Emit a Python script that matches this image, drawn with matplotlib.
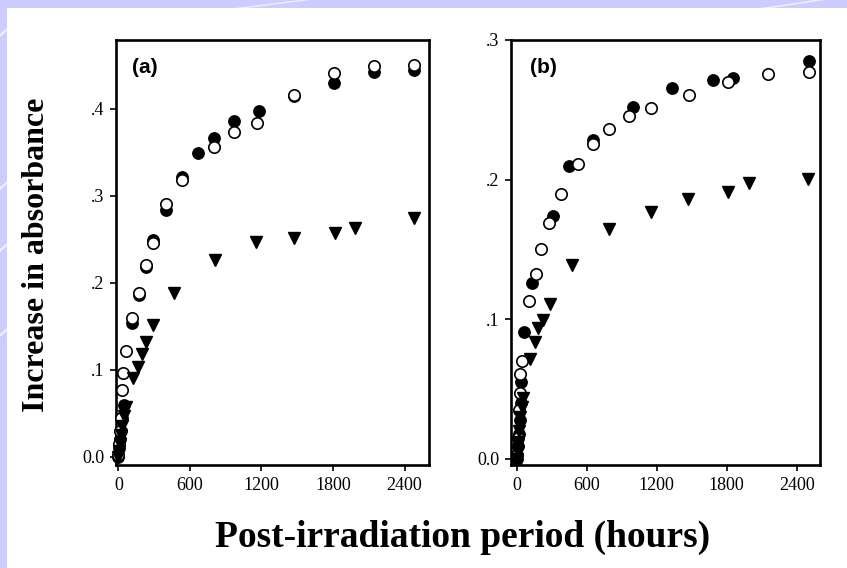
import matplotlib
matplotlib.use("Agg")
import matplotlib.pyplot as plt
from matplotlib.patches import Rectangle, Polygon

# ---------------- data ----------------
# Panel (a)
a_filled_x = [0, 5, 12, 20, 30, 45, 111, 173, 231, 293, 396, 530, 664, 800, 967, 1180, 1473, 1807, 2142, 2477]
a_filled_y = [0.0, 0.01, 0.02, 0.03, 0.045, 0.06, 0.154, 0.186, 0.218, 0.249, 0.284, 0.321, 0.349, 0.366, 0.386, 0.397, 0.415, 0.430, 0.4425, 0.4445]
a_open_x = [0, 8, 15, 24, 33, 42, 67, 111, 173, 231, 293, 396, 530, 800, 967, 1166, 1473, 1807, 2142, 2477]
a_open_y = [0.002, 0.015, 0.03, 0.045, 0.077, 0.096, 0.121, 0.160, 0.188, 0.2203, 0.246, 0.291, 0.318, 0.3556, 0.3736, 0.384, 0.416, 0.4407, 0.449, 0.450]
a_tri_x = [0, 5, 10, 20, 30, 45, 60, 125, 161, 195, 231, 293, 469, 808, 1157, 1473, 1813, 1986, 2477]
a_tri_y = [0.0, 0.007, 0.015, 0.025, 0.035, 0.047, 0.057, 0.090, 0.1035, 0.118, 0.132, 0.1514, 0.1878, 0.226, 0.2464, 0.251, 0.2575, 0.2625, 0.274]

# Panel (b)
b_filled_x = [0, 8, 16, 24, 32, 40, 65, 128, 314, 451, 657, 994, 1329, 1680, 1857, 2508]
b_filled_y = [0.0, 0.009, 0.018, 0.028, 0.04, 0.055, 0.091, 0.126, 0.174, 0.210, 0.2285, 0.252, 0.2657, 0.271, 0.2726, 0.2853]
b_open_x = [0, 10, 18, 24, 28, 43, 105, 163, 208, 280, 380, 528, 657, 794, 965, 1151, 1480, 1814, 2157, 2508]
b_open_y = [0.003, 0.015, 0.035, 0.047, 0.061, 0.0702, 0.1127, 0.1326, 0.150, 0.1686, 0.1894, 0.2115, 0.2255, 0.2362, 0.2453, 0.251, 0.2607, 0.2698, 0.2757, 0.277]
b_tri_x = [0, 6, 12, 20, 30, 43, 57, 114, 157, 185, 223, 285, 471, 794, 1151, 1471, 1814, 1994, 2500]
b_tri_y = [0.0, 0.005, 0.012, 0.02, 0.03, 0.037, 0.0432, 0.0712, 0.0839, 0.0935, 0.0995, 0.111, 0.1386, 0.1647, 0.1767, 0.1858, 0.191, 0.1978, 0.2002]

x_ticks = [0, 600, 1200, 1800, 2400]
x_ticklabels = ["0", "600", "1200", "1800", "2400"]
a_yticks = [0.0, 0.1, 0.2, 0.3, 0.4]
a_yticklabels = ["0.0", ".1", ".2", ".3", ".4"]
b_yticks = [0.0, 0.1, 0.2, 0.3]
b_yticklabels = ["0.0", ".1", ".2", ".3"]

xlabel = "Post-irradiation period (hours)"
ylabel = "Increase in absorbance"

# ---------------- figure ----------------
W, H = 847, 568
fig = plt.figure(figsize=(W / 100, H / 100), dpi=100)
lav = "#CCCCFF"
fig.patch.set_facecolor(lav)

def px(x0, y0, x1, y1):
    return (x0 / W, 1 - y1 / H, (x1 - x0) / W, (y1 - y0) / H)

# white slide area
fig.patches.append(Rectangle((7 / W, 0), (W - 7) / W, (H - 8) / H,
                             transform=fig.transFigure, facecolor="white", edgecolor="none", zorder=-5))
# decorative white stripes in the lavender border
for (xa, xb) in [(235, 300), (760, 815)]:
    fig.patches.append(Polygon([(xa / W, 1 - 8 / H), ((xa + 12) / W, 1 - 8 / H),
                                ((xb + 10) / W, 1.0), (xb / W, 1.0)],
                               closed=True, transform=fig.transFigure,
                               facecolor="white", edgecolor="none", alpha=0.7, zorder=-4))
for yc in [30, 183, 245, 330]:
    fig.patches.append(Polygon([(0, 1 - (yc + 4) / H), (7 / W, 1 - (yc - 2) / H),
                                (7 / W, 1 - (yc + 1) / H), (0, 1 - (yc + 7) / H)],
                               closed=True, transform=fig.transFigure,
                               facecolor="white", edgecolor="none", alpha=0.7, zorder=-4))

serif = ["Liberation Serif", "DejaVu Serif"]
sans = ["Liberation Sans", "DejaVu Sans"]

axA = fig.add_axes(px(116, 40, 429, 465))
axB = fig.add_axes(px(511, 40, 820, 465))

def style(ax, xlim, ylim, yticks, ylabels, tag, tagx):
    ax.set_facecolor("white")
    ax.set_xlim(*xlim)
    ax.set_ylim(*ylim)
    ax.set_xticks(x_ticks)
    ax.set_xticklabels(x_ticklabels, fontfamily=serif, fontsize=13)
    ax.set_yticks(yticks)
    ax.set_yticklabels(ylabels, fontfamily=serif, fontsize=13)
    ax.tick_params(direction="out", length=4.5, width=1.2, pad=4, colors="black")
    for s in ax.spines.values():
        s.set_linewidth(1.9)
        s.set_color("black")
    ax.text(tagx, 0.935, tag, transform=ax.transAxes, fontfamily=sans,
            fontweight="bold", fontsize=15, va="center", ha="left")

def draw(ax, fx, fy, ox, oy, tx, ty):
    ax.plot(fx, fy, "o", ms=8.2, color="black", mec="black", clip_on=False, zorder=3)
    ax.plot(ox, oy, "o", ms=8.2, mfc="white", mec="black", mew=1.2, clip_on=False, zorder=4)
    ax.plot(tx, ty, "v", ms=8.6, color="black", mec="black", clip_on=False, zorder=5)

draw(axA, a_filled_x, a_filled_y, a_open_x, a_open_y, a_tri_x, a_tri_y)
draw(axB, b_filled_x, b_filled_y, b_open_x, b_open_y, b_tri_x, b_tri_y)
style(axA, (-20, 2605), (-0.0095, 0.479), a_yticks, a_yticklabels, "(a)", 0.05)
style(axB, (-50, 2600), (-0.0045, 0.3), b_yticks, b_yticklabels, "(b)", 0.06)

fig.text(463 / W, 1 - 537 / H, xlabel, fontfamily=serif, fontweight="bold",
         fontsize=27, ha="center", va="center")
fig.text(36 / W, 1 - 255 / H, ylabel, fontfamily=serif, fontweight="bold",
         fontsize=23, ha="center", va="center", rotation=90)

fig.savefig("out.png", dpi=100, facecolor=fig.get_facecolor())
